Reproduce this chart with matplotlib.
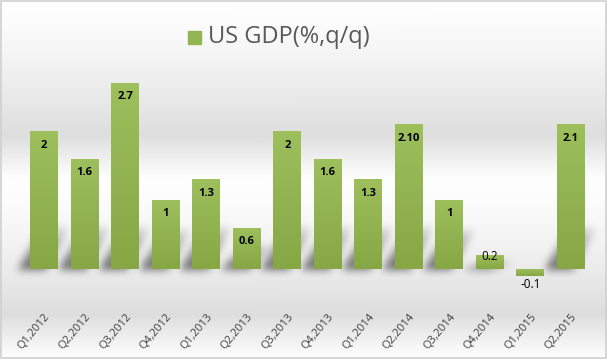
import numpy as np
import matplotlib
matplotlib.use("Agg")
import matplotlib.pyplot as plt
from matplotlib.colors import LinearSegmentedColormap

categories = ["Q1,2012", "Q2,2012", "Q3,2012", "Q4,2012", "Q1,2013", "Q2,2013", "Q3,2013",
              "Q4,2013", "Q1,2014", "Q2,2014", "Q3,2014", "Q4,2014", "Q1,2015", "Q2,2015"]
values = [2.0, 1.6, 2.7, 1.0, 1.3, 0.6, 2.0, 1.6, 1.3, 2.1, 1.0, 0.2, -0.1, 2.1]
value_labels = ["2", "1.6", "2.7", "1", "1.3", "0.6", "2", "1.6", "1.3", "2.10", "1", "0.2", "-0.1", "2.1"]
legend_label = "US GDP(%,q/q)"

W, H = 607, 359
fig = plt.figure(figsize=(W / 100, H / 100), dpi=100)

# background gradient
bg = fig.add_axes([0, 0, 1, 1])
ys = np.linspace(0, 1, 400)  # 0 = top
def shade(t):
    p = t * H
    if p < 270:
        return 1.0 - 0.13 * (p / 270) ** 1.3
    else:
        return 0.87 + 0.13 * ((p - 270) / (H - 270))
g = np.array([shade(t) for t in ys])
img = np.dstack([g, g, g])[:, None, :].repeat(2, axis=1)
bg.imshow(img.reshape(400, 2, 3), aspect="auto", extent=[0, 1, 0, 1], origin="upper", zorder=0)
bg.set_xlim(0, 1); bg.set_ylim(0, 1)
bg.axis("off")
bg.add_patch(plt.Rectangle((0.001, 0.002), 0.997, 0.995, fill=False, ec="#d0d0d0", lw=1.2,
                           transform=bg.transAxes, zorder=5))

# main axes
step = 40.54
left_px = 44 - 0.5 * step
right_px = 571 + 0.5 * step
ppu = 69.0
zero_px = 269
ymin, ymax = -0.5, 3.5
top_px = zero_px - ymax * ppu
bot_px = zero_px - ymin * ppu
ax = fig.add_axes([left_px / W, (H - bot_px) / H, (right_px - left_px) / W, (bot_px - top_px) / H])
ax.patch.set_alpha(0)
ax.set_xlim(-0.5, len(values) - 0.5)
ax.set_ylim(ymin, ymax)
for s in ax.spines.values():
    s.set_visible(False)
ax.set_yticks([])

x = np.arange(len(values))
bars = ax.bar(x, values, width=0.69, color="#93b551", zorder=3)

# soft perspective shadows behind bars (drawn on background axes)
shadow = np.zeros((H, W))
for b in bars:
    (x0d, y0d), (x1d, y1d) = ax.transData.transform([(b.get_x(), 0), (b.get_x() + b.get_width(), b.get_height())])
    base_row = H - y0d
    hpx = y1d - y0d
    if hpx <= 0:
        continue
    hs = min(44.0, 0.6 * hpx)
    for r in range(int(base_row - hs), int(base_row) + 1):
        t = (base_row - r) / hs
        if t < 0 or t > 1:
            continue
        off = -12 + 24 * t
        xa, xb = int(round(x0d + off)), int(round(x1d + off))
        seg = slice(max(xa, 0), min(xb, W))
        shadow[r, seg] = np.maximum(shadow[r, seg], 0.55 * (1 - t) ** 0.7)
# gaussian blur
sig = 4.0
kx = np.arange(-12, 13)
k = np.exp(-kx ** 2 / (2 * sig ** 2)); k /= k.sum()
shadow = np.apply_along_axis(lambda v: np.convolve(v, k, mode="same"), 1, shadow)
shadow = np.apply_along_axis(lambda v: np.convolve(v, k, mode="same"), 0, shadow)
rgba = np.zeros((H, W, 4))
rgba[..., 3] = shadow
bg.imshow(rgba, extent=[0, 1, 0, 1], origin="upper", aspect="auto", zorder=1, interpolation="bilinear")
bg.set_xlim(0, 1); bg.set_ylim(0, 1)

cmap = LinearSegmentedColormap.from_list("g", ["#9dbf5c", "#87a745"])
grad = np.linspace(0, 1, 100).reshape(-1, 1)
for b in bars:
    bx, by = b.get_x(), b.get_y()
    bw, bh = b.get_width(), b.get_height()
    y0, y1 = min(by, by + bh), max(by, by + bh)
    im = ax.imshow(grad, cmap=cmap, aspect="auto", extent=[bx, bx + bw, y0, y1],
                   origin="upper", zorder=4)
    im.set_clip_path(b)
ax.set_xlim(-0.5, len(values) - 0.5)
ax.set_ylim(ymin, ymax)

for xi, v, lab in zip(x, values, value_labels):
    hpx = abs(v) * ppu
    if v < 0:
        ax.annotate(lab, (xi, v), xytext=(0, -9), textcoords="offset pixels",
                    ha="center", va="center", fontsize=8.5, color="black",
                    family="Open Sans", zorder=6)
    elif hpx < 30:
        ax.annotate(lab, (xi, v), xytext=(0, -1), textcoords="offset pixels",
                    ha="center", va="center", fontsize=8.5, color="black",
                    family="Open Sans", zorder=6)
    else:
        ax.annotate(lab, (xi, v), xytext=(0, -14), textcoords="offset pixels",
                    ha="center", va="center", fontsize=8, color="black",
                    fontweight="bold", family="Open Sans", zorder=6)

ax.set_xticks(x)
ax.set_xticklabels(categories, rotation=50, ha="right", rotation_mode="anchor",
                   fontsize=8, color="#404040", family="Open Sans")
ax.tick_params(axis="x", length=0, pad=6)

# legend
fig.patches.append(plt.Rectangle((188 / W, 1 - 44 / H), 13 / W, 13 / H, color="#93b551",
                                 transform=fig.transFigure, figure=fig))
fig.text(208 / W, 1 - 37 / H, legend_label, fontsize=17, color="#595959",
         family="Open Sans", va="center", ha="left")

fig.savefig("out.png", dpi=100)
